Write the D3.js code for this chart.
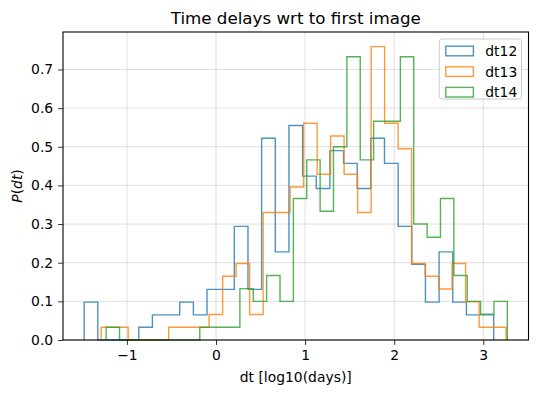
<!DOCTYPE html>
<html>
<head>
<meta charset="utf-8">
<script src="https://cdn.jsdelivr.net/npm/d3@7"></script>
<style>
  body { margin: 0; background: #fff; }
  svg { display: block; font-family: "DejaVu Sans", sans-serif; }
</style>
</head>
<body>
<svg id="chart" width="538" height="393"></svg>
<script>
// series names and colours
let seriesNames = ["dt12", "dt13", "dt14"];
let seriesColors = ["#1f77b4", "#ff7f0e", "#2ca02c"];

// bin range (first edge, last edge) of each histogram, 30 bins each
let dt12Range = [-1.48, 3.117];
let dt13Range = [-1.289, 3.256];
let dt14Range = [-1.233, 3.27];

// density per bin
let dt12Density = [0.098, 0, 0, 0, 0.033, 0.065, 0.065, 0.098, 0.065, 0.131,
    0.131, 0.294, 0.131, 0.522, 0.228, 0.555, 0.424, 0.392, 0.490, 0.457,
    0.392, 0.522, 0.457, 0.294, 0.196, 0.098, 0.228, 0.098, 0.065, 0.065];
let dt13Density = [0.033, 0.033, 0, 0, 0, 0.033, 0.033, 0.033, 0.066, 0.165,
    0.198, 0.066, 0.330, 0.330, 0.396, 0.561, 0.429, 0.528, 0.429, 0.330,
    0.759, 0.561, 0.495, 0.198, 0.165, 0.132, 0.198, 0.099, 0.033, 0.033];
let dt14Density = [0.033, 0, 0, 0, 0, 0, 0, 0.033, 0.033, 0.033,
    0.133, 0.100, 0.167, 0.100, 0.366, 0.466, 0.333, 0.500, 0.733, 0.466,
    0.566, 0.566, 0.733, 0.300, 0.266, 0.366, 0.167, 0.100, 0.067, 0.100];

let xTicks = [-1, 0, 1, 2, 3];
let yTicks = [0, 0.1, 0.2, 0.3, 0.4, 0.5, 0.6, 0.7];

let titleText = "Time delays wrt to first image";
let xLabelText = "dt [log10(days)]";

let fontSize = 13.9;
let plot = {left: 63, right: 528.5, top: 32, bottom: 340};

let ranges = [dt12Range, dt13Range, dt14Range];
let densities = [dt12Density, dt13Density, dt14Density];

let svg = d3.select("#chart");

// domain with matplotlib style 5% margins
let xmin = d3.min(ranges, function(r) { return r[0]; });
let xmax = d3.max(ranges, function(r) { return r[1]; });
let xpad = (xmax - xmin) * 0.05;
let ymax = d3.max(densities, function(d) { return d3.max(d); }) * 1.05;

let x = d3.scaleLinear().domain([xmin - xpad, xmax + xpad]).range([plot.left, plot.right]);
let y = d3.scaleLinear().domain([0, ymax]).range([plot.bottom, plot.top]);

//Grid
let grid = svg.append("g").attr("stroke", "#b0b0b0").attr("stroke-opacity", 0.5).attr("stroke-width", 0.8);
grid.selectAll("line.gx")
    .data(xTicks)
    .enter().append("line")
    .attr("x1", function(d) { return x(d); })
    .attr("x2", function(d) { return x(d); })
    .attr("y1", plot.top)
    .attr("y2", plot.bottom);
grid.selectAll("line.gy")
    .data(yTicks)
    .enter().append("line")
    .attr("x1", plot.left)
    .attr("x2", plot.right)
    .attr("y1", function(d) { return y(d); })
    .attr("y2", function(d) { return y(d); });

//Histograms as step outlines
function stepPoints(range, dens) {
    let n = dens.length;
    let w = (range[1] - range[0]) / n;
    let pts = [[range[0], 0]];
    for (let i = 0; i < n; i++) {
        pts.push([range[0] + i * w, dens[i]]);
        pts.push([range[0] + (i + 1) * w, dens[i]]);
    }
    pts.push([range[1], 0]);
    return pts;
}

let line = d3.line()
    .x(function(p) { return x(p[0]); })
    .y(function(p) { return y(p[1]); });

svg.append("g")
    .selectAll("path")
    .data(seriesNames)
    .enter().append("path")
    .attr("d", function(d, i) { return line(stepPoints(ranges[i], densities[i])); })
    .attr("fill", "none")
    .attr("stroke", function(d, i) { return seriesColors[i]; })
    .attr("stroke-opacity", 0.8)
    .attr("stroke-width", 1.4)
    .attr("stroke-linejoin", "miter");

//Axes
let xAxis = d3.axisBottom(x).tickValues(xTicks).tickFormat(d3.format("d"))
    .tickSize(4.9).tickPadding(5.5).tickSizeOuter(0);
let yAxis = d3.axisLeft(y).tickValues(yTicks).tickFormat(d3.format(".1f"))
    .tickSize(4.9).tickPadding(4.9).tickSizeOuter(0);

let gx = svg.append("g").attr("transform", "translate(0," + plot.bottom + ")").call(xAxis);
let gy = svg.append("g").attr("transform", "translate(" + plot.left + ",0)").call(yAxis);
[gx, gy].forEach(function(g) {
    g.select(".domain").remove();
    g.selectAll("line").attr("stroke", "#000").attr("stroke-width", 0.8);
    g.selectAll("text").attr("fill", "#000").style("font-size", fontSize + "px")
        .style("font-family", "DejaVu Sans");
});

//Frame
svg.append("rect")
    .attr("x", plot.left)
    .attr("y", plot.top)
    .attr("width", plot.right - plot.left)
    .attr("height", plot.bottom - plot.top)
    .attr("fill", "none")
    .attr("stroke", "#000")
    .attr("stroke-width", 1.1);

//Title and labels
let midX = (plot.left + plot.right) / 2;
svg.append("text")
    .attr("x", midX)
    .attr("y", 24)
    .attr("text-anchor", "middle")
    .style("font-size", "16.7px")
    .text(titleText);

svg.append("text")
    .attr("x", midX)
    .attr("y", 382)
    .attr("text-anchor", "middle")
    .style("font-size", fontSize + "px")
    .text(xLabelText);

let ylab = svg.append("text")
    .attr("transform", "translate(22," + ((plot.top + plot.bottom) / 2) + ") rotate(-90)")
    .attr("text-anchor", "middle")
    .style("font-size", fontSize + "px");
ylab.append("tspan").style("font-style", "italic").text("P");
ylab.append("tspan").text("(");
ylab.append("tspan").style("font-style", "italic").text("dt");
ylab.append("tspan").text(")");

//Legend
let legend = svg.append("g");
legend.append("rect")
    .attr("x", 439.3)
    .attr("y", 39)
    .attr("width", 82.2)
    .attr("height", 60)
    .attr("rx", 2.8)
    .attr("fill", "#fff")
    .attr("fill-opacity", 0.8)
    .attr("stroke", "#cccccc")
    .attr("stroke-width", 1);

let rows = legend.selectAll("g.row")
    .data(seriesNames)
    .enter().append("g")
    .attr("transform", function(d, i) { return "translate(0," + (51 + i * 20.6) + ")"; });
rows.append("rect")
    .attr("x", 445.8)
    .attr("y", -4.8)
    .attr("width", 27.6)
    .attr("height", 9.6)
    .attr("fill", "none")
    .attr("stroke", function(d, i) { return seriesColors[i]; })
    .attr("stroke-opacity", 0.8)
    .attr("stroke-width", 1.4);
rows.append("text")
    .attr("x", 485.3)
    .attr("dy", "0.36em")
    .style("font-size", fontSize + "px")
    .text(function(d) { return d; });
</script>
</body>
</html>
